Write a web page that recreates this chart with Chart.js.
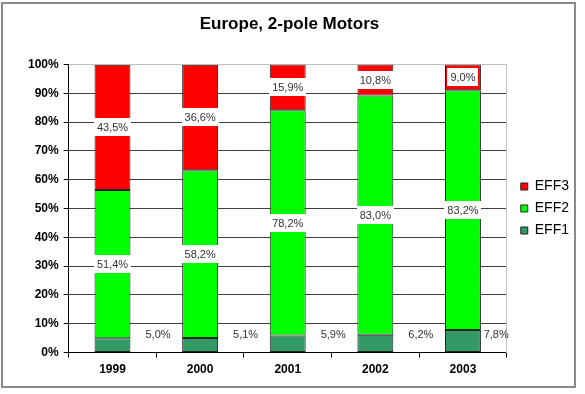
<!DOCTYPE html>
<html>
<head>
<meta charset="utf-8">
<script src="https://cdn.jsdelivr.net/npm/chart.js@4"></script>
<style>
  html, body { margin: 0; padding: 0; background: #fff; }
  #wrap { width: 585px; height: 394px; }
</style>
</head>
<body>
<div id="wrap"><canvas id="motorChart" width="585" height="394"></canvas></div>
<script>
const years = ['1999', '2000', '2001', '2002', '2003']
const eff1 = [5.0, 5.1, 5.9, 6.2, 7.8]
const eff2 = [51.4, 58.2, 78.2, 83.0, 83.2]
const eff3 = [43.5, 36.6, 15.9, 10.8, 9.0]

const FONT = '"Liberation Sans", Arial, sans-serif'
Chart.defaults.font.family = FONT
Chart.defaults.color = '#000'

// outer frame round the whole picture
const framePlugin = {
  id: 'frame',
  beforeDraw (chart) {
    const ctx = chart.ctx
    ctx.save()
    ctx.fillStyle = '#fff'
    ctx.fillRect(0, 0, chart.width, chart.height)
    ctx.strokeStyle = '#8a8a8a'
    ctx.lineWidth = 2
    ctx.strokeRect(2, 3, 573, 384)
    ctx.restore()
  }
}

// percentage labels, like the excel data labels
const labelPlugin = {
  id: 'segLabels',
  afterDatasetsDraw (chart) {
    const ctx = chart.ctx
    const area = chart.chartArea
    ctx.save()
    ctx.font = '11px ' + FONT
    ctx.textBaseline = 'middle'
    chart.data.datasets.forEach((ds, i) => {
      const meta = chart.getDatasetMeta(i)
      meta.data.forEach((bar, j) => {
        const txt = ds.data[j].toFixed(1).replace('.', ',') + '%'
        const w = ctx.measureText(txt).width
        if (ds.label === 'EFF1') {
          let x = bar.x + bar.width / 2 + 15
          if (x + w > area.right + 2) x = area.right + 2 - w
          ctx.fillStyle = '#333'
          ctx.textAlign = 'left'
          ctx.fillText(txt, x, area.bottom - 18)
        } else {
          const y = (bar.y + bar.base) / 2
          ctx.fillStyle = '#fff'
          ctx.fillRect(Math.round(bar.x - w / 2 - 3), Math.round(y - 9), Math.round(w + 6), 18)
          ctx.fillStyle = '#333'
          ctx.textAlign = 'center'
          ctx.fillText(txt, bar.x, y + 1)
        }
      })
    })
    ctx.restore()
  }
}

const ctx = document.getElementById('motorChart').getContext('2d')

const motorChart = new Chart(ctx, {
  type: 'bar',
  data: {
    labels: years,
    datasets: [
      { label: 'EFF1', data: eff1, backgroundColor: '#339966' },
      { label: 'EFF2', data: eff2, backgroundColor: '#00ff00' },
      { label: 'EFF3', data: eff3, backgroundColor: '#ff0000' }
    ]
  },
  options: {
    responsive: false,
    animation: false,
    datasets: {
      bar: {
        borderColor: '#222',
        borderWidth: 1,
        borderSkipped: false,
        categoryPercentage: 1,
        barPercentage: 0.41
      }
    },
    layout: {
      padding: { left: 0, right: 6, top: 4, bottom: 12 }
    },
    plugins: {
      title: {
        display: true,
        text: 'Europe, 2-pole Motors',
        color: '#000',
        font: { size: 17, weight: 'bold' },
        padding: { top: 10, bottom: 30 }
      },
      legend: {
        position: 'right',
        fullSize: false,
        reverse: true,
        labels: {
          boxWidth: 7,
          boxHeight: 7,
          padding: 8,
          color: '#000',
          font: { size: 14 }
        }
      },
      tooltip: { enabled: false }
    },
    scales: {
      x: {
        stacked: true,
        grid: {
          drawOnChartArea: false,
          tickLength: 5,
          tickColor: '#000'
        },
        border: { color: '#000' },
        ticks: {
          padding: 5,
          font: { size: 12, weight: 'bold' }
        }
      },
      y: {
        stacked: true,
        min: 0,
        max: 100,
        afterFit: s => { s.width += 23 },
        ticks: {
          stepSize: 10,
          padding: 5,
          font: { size: 12, weight: 'bold' },
          callback: v => v + '%'
        },
        grid: {
          color: c => (c.tick && c.tick.value === 100 ? '#c0c0c0' : '#404040'),
          tickLength: 5,
          tickColor: '#000'
        },
        border: { color: '#000' }
      },
      yRight: {
        position: 'right',
        min: 0,
        max: 100,
        afterFit: s => { s.width = 6 },
        ticks: { display: false },
        grid: { drawOnChartArea: false, drawTicks: false },
        border: { color: '#c0c0c0' }
      }
    }
  },
  plugins: [framePlugin, labelPlugin]
})
</script>
</body>
</html>
